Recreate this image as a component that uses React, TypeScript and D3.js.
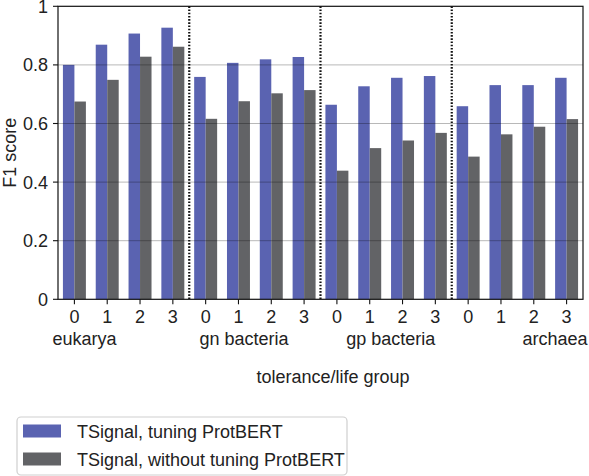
import React from "react";
import * as d3 from "d3";

const groups = ["eukarya", "gn bacteria", "gp bacteria", "archaea"];
const tolerances = ["0", "1", "2", "3"];
const seriesNames = ["TSignal, tuning ProtBERT", "TSignal, without tuning ProtBERT"];
const tuning = [0.80, 0.869, 0.907, 0.927, 0.759, 0.807, 0.819, 0.827, 0.664, 0.727, 0.756, 0.762, 0.659, 0.731, 0.731, 0.756];
const noTuning = [0.675, 0.749, 0.828, 0.862, 0.616, 0.676, 0.703, 0.714, 0.439, 0.516, 0.542, 0.568, 0.487, 0.563, 0.589, 0.615];
const yTicks = [0, 0.2, 0.4, 0.6, 0.8, 1];
const yTickLabels = ["0", "0.2", "0.4", "0.6", "0.8", "1"];
const colors = ["#5a63b1", "#626366"];

const W = 589, H = 476;
const L = 58, R = 583, T = 6.3, B = 299.3;
const FONT = "'Liberation Sans', Arial, Helvetica, sans-serif";

export default function App() {
  const idx = d3.range(groups.length * tolerances.length);
  const x = d3.scaleBand<number>().domain(idx).range([L, R]).paddingInner(0).paddingOuter(0);
  const y = d3.scaleLinear().domain([0, 1]).range([B, T]);
  const bw = x.bandwidth() * 0.35;
  const center = (i: number) => (x(i) as number) + x.bandwidth() / 2;
  const tickPos = d3.scaleLinear().domain([0, idx.length - 1]).range([center(0), center(idx.length - 1)]);
  const series = [tuning, noTuning];
  // layout of the group labels (tick-unit positions & anchors)
  const groupLabelLayout = [
    { pos: 0.31, anchor: "middle" },
    { pos: 5.17, anchor: "middle" },
    { pos: 9.64, anchor: "middle" },
    { pos: 14.65, anchor: "middle" },
  ];
  return (
    <div style={{ position: "absolute", left: 0, top: 0 }}>
      <svg width={W} height={H} style={{ display: "block", fontFamily: FONT }}>
        <rect width={W} height={H} fill="#fff" />
        {series.map((vals, s) =>
          vals.map((v, i) => (
            <rect
              key={`b${s}-${i}`}
              x={center(i) - bw + s * bw}
              y={y(v)}
              width={bw}
              height={B - y(v)}
              fill={colors[s]}
            />
          ))
        )}
        {yTicks.filter((t) => t > 0 && t < 1).map((t) => (
          <line key={`g${t}`} x1={L} x2={R} y1={y(t)} y2={y(t)} stroke="#000" strokeOpacity={0.28} strokeWidth={1} />
        ))}
        {[1, 2, 3].map((g) => {
          const xx = x(g * tolerances.length) as number;
          return <line key={`d${g}`} x1={xx} x2={xx} y1={T} y2={B} stroke="#111" strokeWidth={2.2} strokeDasharray="1.6,1.6" />;
        })}
        <rect x={L} y={T} width={R - L} height={B - T} fill="none" stroke="#111" strokeWidth={1.2} />
        {yTicks.map((t, k) => (
          <g key={`yt${t}`}>
            <line x1={L - 5} x2={L} y1={y(t)} y2={y(t)} stroke="#111" strokeWidth={1.1} />
            <text x={L - 10} y={y(t)} dy="0.36em" textAnchor="end" fontSize={18} fill="#222">
              {yTickLabels[k]}
            </text>
          </g>
        ))}
        {idx.map((i) => (
          <g key={`xt${i}`}>
            <line x1={center(i)} x2={center(i)} y1={B} y2={B + 5} stroke="#111" strokeWidth={1.1} />
            <text x={center(i)} y={322.5} textAnchor="middle" fontSize={18} fill="#222">
              {tolerances[i % tolerances.length]}
            </text>
          </g>
        ))}
        {groups.map((g, k) => (
          <text key={g} x={tickPos(groupLabelLayout[k].pos)} y={345} textAnchor={groupLabelLayout[k].anchor as any} fontSize={18} fill="#222">
            {g}
          </text>
        ))}
        <text x={333} y={383} textAnchor="middle" fontSize={18} fill="#222">tolerance/life group</text>
        <text transform={`translate(16,${(T + B) / 2}) rotate(-90)`} textAnchor="middle" fontSize={18} fill="#222">F1 score</text>
        <rect x={17} y={417} width={330} height={58} rx={4} fill="#fff" stroke="#cfcfcf" strokeWidth={1.2} />
        {seriesNames.map((n, s) => (
          <g key={n}>
            <rect x={23} y={424.5 + s * 28} width={38} height={13} fill={colors[s]} />
            <text x={77} y={437.5 + s * 28.5} fontSize={18} fill="#222">{n}</text>
          </g>
        ))}
      </svg>
    </div>
  );
}
